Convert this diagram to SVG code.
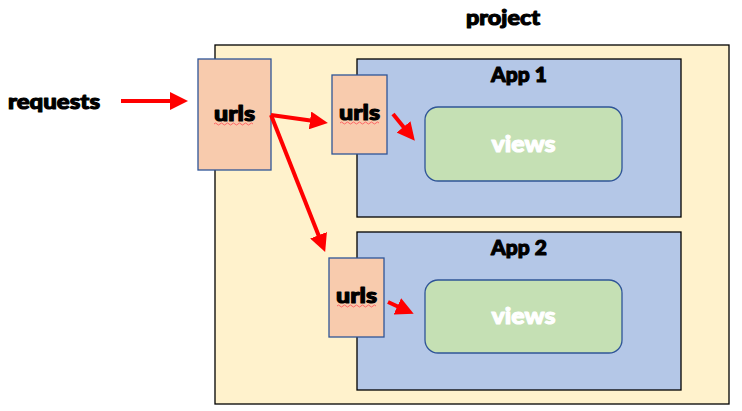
<svg xmlns="http://www.w3.org/2000/svg" width="742" height="411" viewBox="0 0 742 411">
<style>
text{font-family:Lato,"Open Sans","Liberation Sans",sans-serif;font-weight:900;font-size:21px;stroke-width:1.1;stroke-linejoin:round;}
.lbl{fill:#000;stroke:#000;}
.proj{fill:#FFF2CC;stroke:#000;stroke-width:1.3;}
.app{fill:#B4C7E7;stroke:#000;stroke-width:1.3;}
.urls{fill:#F8CBAD;stroke:#2F5597;stroke-width:1.3;}
.views{fill:#C5E0B4;stroke:#2F5597;stroke-width:1.3;}
.vt{fill:#fff;stroke:#fff;font-size:23px;}
.arr{stroke:#FF0000;stroke-width:4;fill:none;marker-end:url(#ah);}
.sq{stroke:#FF6666;stroke-width:1;fill:none;}
</style>
<defs>
<marker id="ah" markerWidth="4.5" markerHeight="4.5" refX="1" refY="2.25" orient="auto" markerUnits="strokeWidth">
<path d="M0,0 L4.5,2.25 L0,4.5 Z" fill="#FF0000"/>
</marker>
</defs>
<rect width="742" height="411" fill="#fff"/>
<g id="project">
<text x="503" y="25" text-anchor="middle" class="lbl" textLength="74" lengthAdjust="spacingAndGlyphs">project</text>
<rect class="proj" x="215" y="45" width="514" height="359"/>
</g>
<g id="app1">
<rect class="app" x="357" y="59" width="324" height="158"/>
<text x="519" y="82" text-anchor="middle" class="lbl">App 1</text>
</g>
<g id="app2">
<rect class="app" x="357" y="232" width="324" height="158"/>
<text x="519" y="255" text-anchor="middle" class="lbl">App 2</text>
</g>
<g id="requests">
<text x="54" y="109" text-anchor="middle" class="lbl" textLength="92" lengthAdjust="spacingAndGlyphs">requests</text>
</g>
<g id="urls-main">
<rect class="urls" x="198" y="59" width="73" height="111"/>
<text x="234.5" y="121" text-anchor="middle" class="lbl" textLength="41" lengthAdjust="spacingAndGlyphs">urls</text>
<path class="sq" d="M214,124 q1.5,-2 3,0 t3,0 t3,0 t3,0 t3,0 t3,0 t3,0 t3,0 t3,0 t3,0 t3,0 t3,0 t3,0"/>
</g>
<g id="urls-app1">
<rect class="urls" x="332" y="75" width="55" height="79"/>
<text x="359.5" y="120" text-anchor="middle" class="lbl" textLength="41" lengthAdjust="spacingAndGlyphs">urls</text>
<path class="sq" d="M340,123 q1.5,-2 3,0 t3,0 t3,0 t3,0 t3,0 t3,0 t3,0 t3,0 t3,0 t3,0 t3,0 t3,0 t3,0"/>
</g>
<g id="urls-app2">
<rect class="urls" x="329" y="258" width="55" height="79"/>
<text x="356.5" y="303" text-anchor="middle" class="lbl" textLength="41" lengthAdjust="spacingAndGlyphs">urls</text>
<path class="sq" d="M337,306 q1.5,-2 3,0 t3,0 t3,0 t3,0 t3,0 t3,0 t3,0 t3,0 t3,0 t3,0 t3,0 t3,0 t3,0"/>
</g>
<g id="views1">
<rect class="views" x="425" y="107" width="197" height="74" rx="13"/>
<text x="523.5" y="152" text-anchor="middle" class="vt" textLength="64" lengthAdjust="spacingAndGlyphs">views</text>
</g>
<g id="views2">
<rect class="views" x="425" y="280" width="197" height="73" rx="13"/>
<text x="523.5" y="324" text-anchor="middle" class="vt" textLength="64" lengthAdjust="spacingAndGlyphs">views</text>
</g>
<g id="connectors">
<line class="arr" x1="121" y1="101" x2="174" y2="101"/>
<line class="arr" x1="271" y1="115" x2="314" y2="121"/>
<line class="arr" x1="271" y1="115" x2="320" y2="239"/>
<line class="arr" x1="393" y1="114" x2="406" y2="130"/>
<line class="arr" x1="388" y1="302" x2="401" y2="308"/>
</g>
</svg>
